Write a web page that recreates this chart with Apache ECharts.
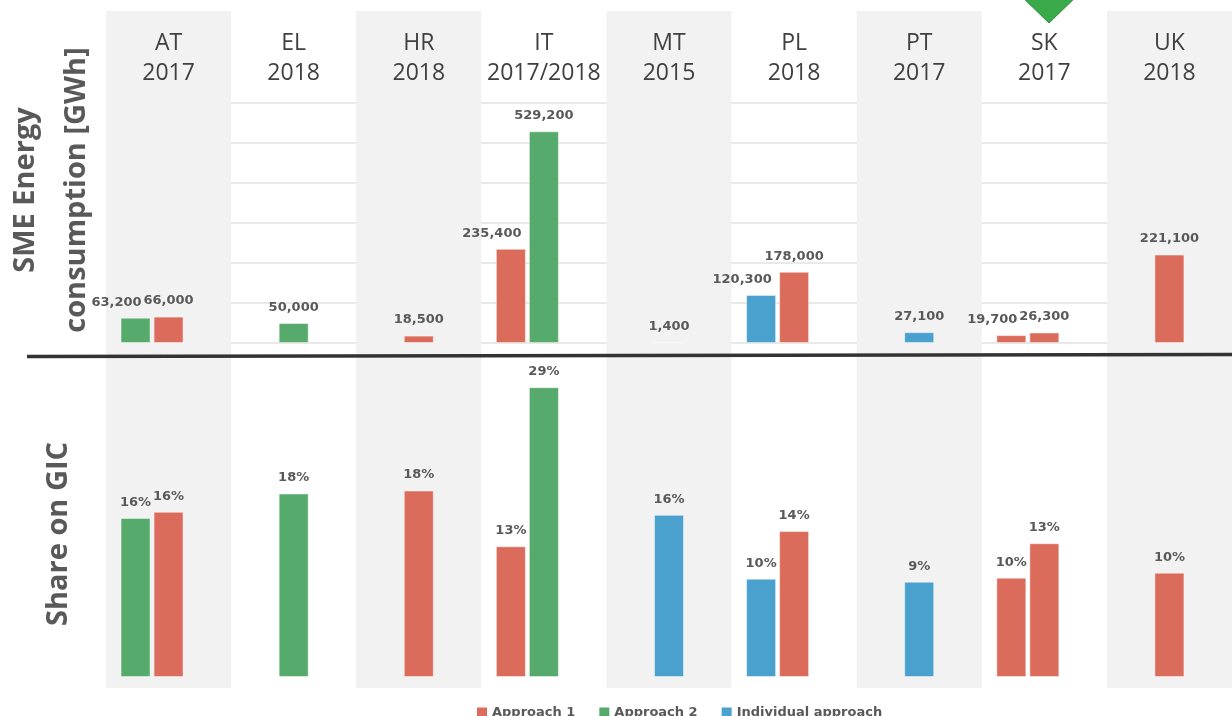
<!DOCTYPE html>
<html>
<head>
<meta charset="utf-8">
<script src="https://cdn.jsdelivr.net/npm/echarts@6/dist/echarts.min.js"></script>
<style>
html, body { margin: 0; padding: 0; background: #fff; }
#main { width: 1232px; height: 716px; }
</style>
</head>
<body>
<div id="main"></div>
<script>
var countries = ['AT', 'EL', 'HR', 'IT', 'MT', 'PL', 'PT', 'SK', 'UK'];
var years = ['2017', '2018', '2018', '2017/2018', '2015', '2018', '2017', '2017', '2018'];

// approach of the left bar of a pair, and of the centre bar (single bar or right of pair)
var leftType = ['A2', null, null, 'A1', null, 'IND', null, 'A1', null];
var midType = ['A1', 'A2', 'A1', 'A2', 'IND', 'A1', 'IND', 'A1', 'A1'];

// SME energy consumption [GWh]
var consLeft = [63200, null, null, 235400, null, 120300, null, 19700, null];
var consMid = [66000, 50000, 18500, 529200, 1400, 178000, 27100, 26300, 221100];

// share on GIC
var shareLeft = [0.157, null, null, 0.129, null, 0.097, null, 0.098, null];
var shareMid = [0.163, 0.181, 0.184, 0.286, 0.160, 0.144, 0.094, 0.132, 0.103];

var approachNames = { A1: 'Approach 1', A2: 'Approach 2', IND: 'Individual approach' };
var colors = { A1: '#db6c5b', A2: '#56ab6c', IND: '#4aa1ce' };

var labelFont = { color: '#595959', fontFamily: 'DejaVu Sans', fontWeight: 'bold', fontSize: 13 };

function toItems(values, types) {
    return values.map(function (v, i) {
        if (v == null) return null;
        return { value: v, itemStyle: { color: colors[types[i]] } };
    });
}

function barSeries(axisIdx, values, types, fmt, offset) {
    return {
        type: 'bar',
        xAxisIndex: axisIdx,
        yAxisIndex: axisIdx,
        barWidth: 30,
        barGap: '10%',
        data: toItems(values, types),
        itemStyle: { borderColor: 'rgba(255,255,255,0.45)', borderWidth: 1 },
        label: Object.assign({
            show: true,
            position: 'top',
            distance: 9,
            offset: offset || [0, 0],
            formatter: fmt
        }, labelFont)
    };
}

var fmtGwh = function (p) { return p.value.toLocaleString('en-US'); };
var fmtPct = function (p) { return Math.round(p.value * 100) + '%'; };
var empty = countries.map(function () { return null; });

var series = [
    // top panel: left slot, centre slot, spare right slot
    barSeries(1, consLeft, leftType, fmtGwh, [-19, 0]),
    barSeries(1, consMid, midType, fmtGwh),
    barSeries(1, empty, midType, fmtGwh),
    // bottom panel
    barSeries(2, shareLeft, leftType, fmtPct),
    barSeries(2, shareMid, midType, fmtPct),
    barSeries(2, empty, midType, fmtPct)
];

// legend entries
['A1', 'A2', 'IND'].forEach(function (k) {
    series.push({
        type: 'bar', name: approachNames[k], xAxisIndex: 0, yAxisIndex: 0,
        data: [], itemStyle: { color: colors[k] }
    });
});

var gridLeft = 106, gridWidth = 1131;

var option = {
    animation: false,
    backgroundColor: '#ffffff',
    grid: [
        { left: gridLeft, width: gridWidth, top: 11, height: 677 },
        { left: gridLeft, width: gridWidth, top: 103, height: 240 },
        { left: gridLeft, width: gridWidth, top: 373, height: 304 }
    ],
    xAxis: [
        {
            type: 'category', gridIndex: 0, position: 'top',
            data: countries.map(function (c, i) { return c + '\n' + years[i]; }),
            axisLine: { show: false }, axisTick: { show: false, interval: 0 },
            axisLabel: {
                interval: 0, inside: true, margin: 17, color: '#404040',
                fontFamily: 'Open Sans', fontSize: 23, lineHeight: 30
            },
            splitArea: { show: true, interval: 0, areaStyle: { color: ['#f2f2f2', 'rgba(255,255,255,0)'] } }
        },
        {
            type: 'category', gridIndex: 1, data: countries,
            axisLine: { show: false }, axisTick: { show: false }, axisLabel: { show: false }
        },
        {
            type: 'category', gridIndex: 2, data: countries,
            axisLine: { show: false }, axisTick: { show: false }, axisLabel: { show: false }
        }
    ],
    yAxis: [
        { type: 'value', gridIndex: 0, show: false },
        {
            type: 'value', gridIndex: 1, min: 0, max: 600000, interval: 100000,
            axisLabel: { show: false }, axisLine: { show: false }, axisTick: { show: false },
            splitLine: { lineStyle: { color: '#e2e2e2', width: 1.5 } }
        },
        {
            type: 'value', gridIndex: 2, min: 0, max: 0.3,
            axisLabel: { show: false }, axisLine: { show: false }, axisTick: { show: false },
            splitLine: { show: false }
        }
    ],
    legend: {
        data: ['Approach 1', 'Approach 2', 'Individual approach'],
        left: 477, top: 706, padding: 0,
        icon: 'rect', itemWidth: 10, itemHeight: 10, itemGap: 24,
        textStyle: labelFont
    },
    graphic: [
        {
            type: 'text', x: 51, y: 190, rotation: Math.PI / 2, z: 100,
            style: {
                text: 'SME Energy\nconsumption [GWh]',
                fontFamily: 'Open Sans', fontWeight: 'bold', fontSize: 29, lineHeight: 51,
                fill: '#595959', align: 'center', verticalAlign: 'middle'
            }
        },
        {
            type: 'text', x: 59, y: 534, rotation: Math.PI / 2, z: 100,
            style: {
                text: 'Share on GIC',
                fontFamily: 'Open Sans', fontWeight: 'bold', fontSize: 29,
                fill: '#595959', align: 'center', verticalAlign: 'middle'
            }
        },
        {
            type: 'line', z: 100,
            shape: { x1: 27, y1: 356.5, x2: 1232, y2: 354.5 },
            style: { stroke: '#333333', lineWidth: 3.5 }
        },
        {
            type: 'polygon', z: 100,
            shape: { points: [[1019, -6], [1079, -6], [1049, 23]] },
            style: { fill: '#39a949', stroke: '#2f8a3c', lineWidth: 1 }
        }
    ],
    series: series
};

var chart = echarts.init(document.getElementById('main'));
chart.setOption(option);
</script>
</body>
</html>
